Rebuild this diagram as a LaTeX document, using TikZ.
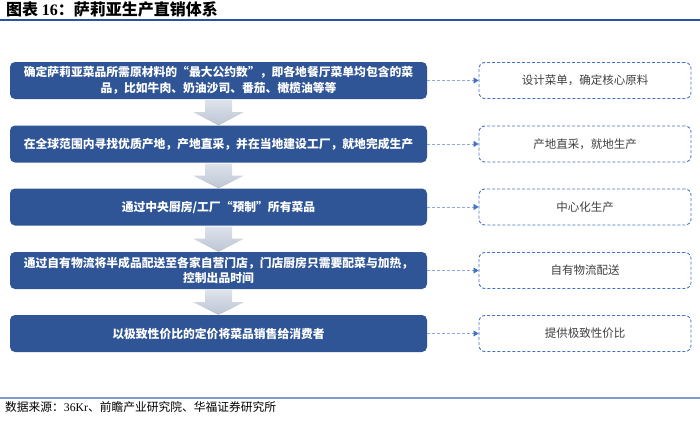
\documentclass[tikz,border=0pt]{standalone}
\usepackage{fontspec}
\setmainfont{Liberation Serif}
\newfontfamily\cjk{Noto Sans CJK SC}
\usetikzlibrary{arrows.meta,calc}
\definecolor{boxblue}{RGB}{47,85,151}
\definecolor{dashblue}{RGB}{68,114,196}
\definecolor{lineblue}{RGB}{140,170,222}
\definecolor{arrowtop}{RGB}{222,226,234}
\definecolor{arrowbot}{RGB}{190,199,215}
\definecolor{titleblue}{RGB}{38,84,163}
\definecolor{footblue}{RGB}{125,155,210}
\definecolor{notetext}{RGB}{64,64,64}
\begin{document}
\begin{tikzpicture}[x=1pt,y=-1pt,
  stepbox/.style={fill=boxblue, rounded corners=5pt, minimum width=417pt, minimum height=37pt,
    text=white, font=\cjk\bfseries\fontsize{11.8}{15.5}\selectfont, align=center, inner sep=0pt},
  notebox/.style={draw=dashblue, line width=0.9pt, dash pattern=on 3pt off 2pt, rounded corners=6pt,
    minimum width=212pt, minimum height=36pt, text=notetext,
    font=\cjk\fontsize{11.5}{13}\selectfont, inner sep=0pt},
  link/.style={draw=lineblue, line width=0.8pt, dash pattern=on 3pt off 2pt,
    -{Triangle[length=5pt,width=6pt,color=dashblue]}},
  downarrow/.style={top color=arrowtop, bottom color=arrowbot, draw=none},
  arrowshadow/.style={fill=black, opacity=0.25, draw=none}]
\useasboundingbox (0,0) rectangle (700,423);
\fill[white] (0,0) rectangle (700,423);
% title
\node[anchor=west, inner sep=0pt, font=\cjk\bfseries\fontsize{16}{18}\selectfont] (title) at (6,9)
  {图表 {\rmfamily\bfseries 16}：萨莉亚生产直销体系};
\draw[titleblue, line width=1.3pt] (0,20) -- (700,20);
% down arrows (drawn first, under boxes)
\foreach \a/\b in {s1/s2,s2/s3,s3/s4,s4/s5} {}
% main boxes
\node[stepbox] (s1) at (218.5,80.5) {确定萨莉亚菜品所需原材料的“最大公约数”，即各地餐厅菜单均包含的菜\\品，比如牛肉、奶油沙司、番茄、橄榄油等等};
\node[stepbox] (s2) at (218.5,144) {在全球范围内寻找优质产地，产地直采，并在当地建设工厂，就地完成生产};
\node[stepbox] (s3) at (218.5,207) {通过中央厨房/工厂“预制”所有菜品};
\node[stepbox] (s4) at (218.5,270.5) {通过自有物流将半成品配送至各家自营门店，门店厨房只需要配菜与加热，\\控制出品时间};
\node[stepbox] (s5) at (218.5,333.5) {以极致性价比的定价将菜品销售给消费者};
% note boxes
\node[notebox] (n1) at (585,80.5) {设计菜单，确定核心原料};
\node[notebox] (n2) at (585,144) {产地直采，就地生产};
\node[notebox] (n3) at (585,207) {中心化生产};
\node[notebox] (n4) at (585,270.5) {自有物流配送};
\node[notebox] (n5) at (585,333.5) {提供极致性价比};
% links
\foreach \i in {1,...,5} \draw[link] (s\i.east) -- (n\i.west);
% down arrows
\foreach \a/\b in {s1/s2,s2/s3,s3/s4,s4/s5} {
  \path[arrowshadow] ($(\a.south)+(24,13.5)$) -- ($(\b.north)+(0,0)$) -- ($(\a.south)+(-24,13.5)$)
    -- ($(\b.north)+(0,-2)$) -- cycle;
  \path[downarrow] ($(\a.south)+(-13.5,1)$) -- ($(\a.south)+(13.5,1)$) -- ($(\a.south)+(13.5,13)$)
    -- ($(\a.south)+(25,13)$) -- ($(\b.north)+(0,-1)$) -- ($(\a.south)+(-25,13)$)
    -- ($(\a.south)+(-13.5,13)$) -- cycle;
}
% footer
\draw[footblue, line width=1.6pt] (0,398) -- (700,398);
\node[anchor=west, inner sep=0pt, font=\cjk\fontsize{11.75}{13}\selectfont] (src) at (5,407)
  {数据来源：{\rmfamily 36Kr}、前瞻产业研究院、华福证券研究所};
\end{tikzpicture}
\end{document}
